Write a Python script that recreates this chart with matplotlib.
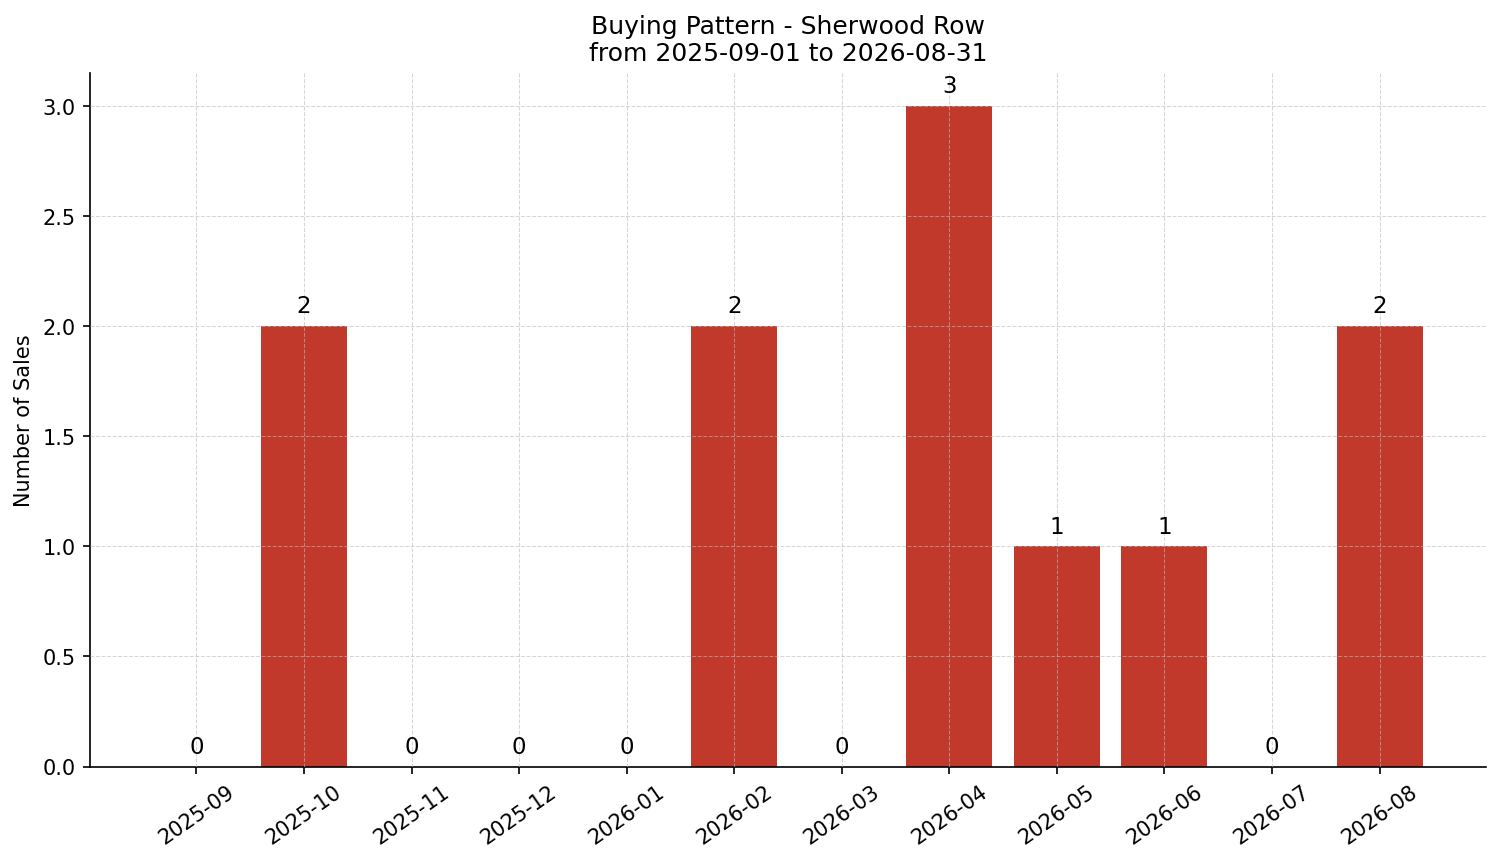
import matplotlib.pyplot as plt
import numpy as np

months = ["2025-09", "2025-10", "2025-11", "2025-12", "2026-01", "2026-02",
          "2026-03", "2026-04", "2026-05", "2026-06", "2026-07", "2026-08"]
sales = [0, 2, 0, 0, 0, 2, 0, 3, 1, 1, 0, 2]

fig, ax = plt.subplots(figsize=(10.007, 5.753), dpi=150)
x = np.arange(len(months))
ax.bar(x, sales, width=0.8, color="#c0392b")

for xi, v in zip(x, sales):
    ax.text(xi, v + 0.04, f"{v}", ha="center", va="bottom", fontsize=11)

ax.set_xticks(x)
ax.set_xticklabels(months, rotation=35, fontsize=10)
ax.tick_params(axis="y", labelsize=10)
ax.set_ylabel("Number of Sales", fontsize=10)
ax.set_title("Buying Pattern - Sherwood Row\nfrom 2025-09-01 to 2026-08-31", fontsize=12)
ax.set_ylim(0, 3.15)
# grid sits on top of the bars in the original
ax.set_axisbelow(False)
ax.grid(True, linestyle="--", color="#bbbbbb", linewidth=0.5, alpha=0.6)
ax.spines["top"].set_visible(False)
ax.spines["right"].set_visible(False)

fig.subplots_adjust(left=90 / 1501, right=1486 / 1501, top=1 - 74 / 863, bottom=1 - 767.5 / 863)
fig.savefig("out.png", dpi=150)
